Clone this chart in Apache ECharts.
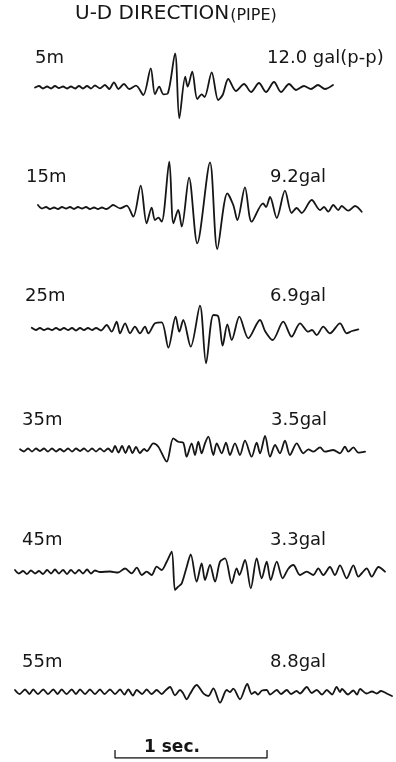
<!DOCTYPE html>
<html>
<head>
<meta charset="utf-8">
<script src="https://cdn.jsdelivr.net/npm/echarts@6/dist/echarts.min.js"></script>
<style>
  html, body { margin: 0; padding: 0; background: #fff; }
  #chart { width: 396px; height: 762px; }
</style>
</head>
<body>
<div id="chart"></div>
<script>
// Vertical (U-D) acceleration records at six depths along the pipe.
// Each trace: [time (s), trace deflection (record units, up = +)].

const DEPTHS = ['5m', '15m', '25m', '35m', '45m', '55m'];
const PP_GAL = [12.0, 9.2, 6.9, 3.5, 3.3, 8.8];

const trace5m = [
  [0.132, 0], [0.158, 1.5], [0.184, -1], [0.211, 1], [0.237, -1], [0.263, 1.5],
  [0.289, -0.5], [0.316, 1], [0.342, -1], [0.368, 1], [0.395, -1], [0.421, 1.5],
  [0.447, -1], [0.474, 1.5], [0.500, -1], [0.526, 2], [0.559, -0.8], [0.592, 2.5],
  [0.620, -1.5], [0.651, 5.2], [0.680, -1.5], [0.717, 3.5], [0.752, -1.5], [0.796, 1.8],
  [0.844, -7.5], [0.893, 19.2], [0.921, -6.8], [0.949, 0.8], [0.976, -6.8], [1.005, -6],
  [1.053, 34.2], [1.081, -30.8], [1.120, 10.8], [1.136, 0.8], [1.166, 15.8], [1.199, -11.5],
  [1.228, -6.8], [1.247, -9.5], [1.294, 15.2], [1.337, -12.5], [1.366, -7.5], [1.403, 8.5],
  [1.454, -3.5], [1.507, 3.5], [1.553, -4.5], [1.605, 4.5], [1.651, -4.5], [1.704, 5.5],
  [1.750, -4.5], [1.803, 3.5], [1.849, -2.5], [1.901, 1.5], [1.947, -1.5], [1.993, 2.5],
  [2.039, -1.5], [2.092, 2.5]
];

const trace15m = [
  [0.151, 3], [0.178, -0.5], [0.204, 1], [0.230, -1], [0.257, 0.5], [0.283, -1],
  [0.309, 1], [0.336, -0.5], [0.362, 1], [0.388, -1], [0.414, 1], [0.441, -0.5],
  [0.467, 1], [0.493, -1], [0.520, 0.5], [0.546, -1], [0.572, 0.5], [0.599, -1],
  [0.625, 1], [0.645, 3], [0.691, -0.3], [0.735, 2.3], [0.778, -8.7], [0.827, 22.3],
  [0.866, -15.3], [0.899, 0.3], [0.921, -12], [0.943, -9.7], [0.965, -13.7], [1.015, 46.3],
  [1.042, -15.3], [1.074, -2], [1.097, -18.7], [1.145, 30.3], [1.199, -35.3], [1.283, 45.7],
  [1.331, -41], [1.397, 14.7], [1.436, 3], [1.463, -12], [1.513, 20.7], [1.557, -13.7],
  [1.632, 4.7], [1.651, 1], [1.678, 11], [1.722, -10], [1.776, 17.3], [1.820, -5],
  [1.853, 0], [1.886, -5], [1.952, 8], [2.007, -2], [2.033, 1], [2.061, -3.7],
  [2.094, 3], [2.127, -2], [2.149, 2], [2.193, -2.7], [2.237, 2], [2.281, -3.7]
];

const trace25m = [
  [0.110, 1.3], [0.138, -1], [0.164, 1], [0.191, -1], [0.217, 0.5], [0.243, -1],
  [0.270, 1], [0.296, -1], [0.322, 1], [0.349, -1], [0.375, 1], [0.401, -1.5],
  [0.428, 1], [0.454, -1], [0.480, 1], [0.507, -1], [0.533, 1], [0.566, -1.5],
  [0.603, 4], [0.636, -2.7], [0.669, 7.3], [0.691, -4.3], [0.724, 5.7], [0.757, -4.3],
  [0.789, 2.3], [0.822, -4.3], [0.855, 2.3], [0.877, -4.3], [0.921, 5.7], [0.965, 6.7],
  [1.009, -18.7], [1.057, 12.3], [1.081, -2.7], [1.107, 9], [1.156, -17.7], [1.217, 23.3],
  [1.257, -34.3], [1.305, 14], [1.338, 12.3], [1.366, -16.7], [1.397, 4.7], [1.426, -11],
  [1.476, 12.3], [1.535, -9.3], [1.612, 9], [1.645, -2], [1.695, -11], [1.765, 7.3],
  [1.820, -7.7], [1.875, 5.7], [1.930, -2.7], [1.954, -1], [1.985, -6], [2.028, 2.3],
  [2.072, -4.3], [2.138, 5.7], [2.182, -4.3], [2.217, -2], [2.259, -0.3]
];

const trace35m = [
  [0.033, 0.7], [0.059, -1.5], [0.086, 1.5], [0.112, -1.5], [0.138, 1.5], [0.164, -1],
  [0.191, 1.5], [0.217, -1.5], [0.243, 1.5], [0.270, -1.5], [0.296, 1], [0.322, -1.5],
  [0.349, 1.5], [0.375, -1.5], [0.401, 1.5], [0.428, -1], [0.454, 1.5], [0.480, -1.5],
  [0.507, 1.5], [0.533, -1.5], [0.559, 1.5], [0.586, -1.5], [0.612, 1.5], [0.638, -2],
  [0.658, 4], [0.681, -2.5], [0.704, 4], [0.727, -3], [0.750, 4], [0.773, -3],
  [0.796, 3], [0.822, -3], [0.849, 1], [0.868, -1], [0.910, 6.7], [0.943, 3.3],
  [0.998, -11.7], [1.041, 11.7], [1.074, 8.3], [1.107, 7.3], [1.129, -6.7], [1.162, 6.7],
  [1.184, -5], [1.206, 8.3], [1.228, -3.3], [1.250, 6.7], [1.272, 13.3], [1.305, -5],
  [1.327, 6.7], [1.360, -3.3], [1.388, 7.3], [1.414, -5], [1.447, 6.7], [1.480, -5],
  [1.513, 9.3], [1.557, -6.7], [1.590, 7.3], [1.612, -3.3], [1.645, 14], [1.678, -6.7],
  [1.711, 5], [1.743, -3.3], [1.776, 9.3], [1.809, -5], [1.853, 6.7], [1.897, -3.3],
  [1.930, 0.7], [1.963, -1.7], [2.007, 2.7], [2.039, -1.7], [2.094, 0], [2.138, -3.3],
  [2.171, 3.3], [2.193, -1.7], [2.226, 2.7], [2.259, -2.7], [2.303, -1.7]
];

const trace45m = [
  [0.000, 2], [0.026, -1.5], [0.053, 1], [0.079, -2], [0.105, 1.5], [0.132, -1.5],
  [0.158, 1], [0.184, -2], [0.211, 2], [0.237, -1.5], [0.263, 2.5], [0.289, -1.5],
  [0.316, 2], [0.342, -2], [0.368, 2], [0.395, -1.5], [0.421, 2], [0.447, -1.5],
  [0.474, 2.5], [0.500, -1.5], [0.526, 1.5], [0.559, 0], [0.625, 0.5], [0.678, -0.5],
  [0.724, 3.5], [0.768, -1.3], [0.801, 4.3], [0.834, -3], [0.866, 0.3], [0.899, -3],
  [0.932, 5.3], [0.965, 2], [0.998, 10.3], [1.031, 20.3], [1.053, -18], [1.074, -14.7],
  [1.097, -11.3], [1.130, 5.3], [1.156, 17.7], [1.195, -9.7], [1.228, 8.7], [1.250, -8],
  [1.283, 7], [1.316, -9.7], [1.349, 10.3], [1.382, 13.7], [1.426, -11.3], [1.458, 3.7],
  [1.476, -3], [1.513, 12], [1.551, -16.3], [1.590, 13.7], [1.623, -6.3], [1.656, 10.3],
  [1.682, -8], [1.722, 10.3], [1.761, -6.3], [1.798, 3.3], [1.831, 7], [1.875, -3],
  [1.919, 0.3], [1.963, -3], [1.995, 3.7], [2.028, -3], [2.072, 5], [2.105, -3],
  [2.138, 6.7], [2.182, -6.3], [2.226, 6.7], [2.259, -4.7], [2.283, -1], [2.314, 3.7],
  [2.347, -4.7], [2.391, 5], [2.434, 0.3]
];

const trace55m = [
  [0.000, 2], [0.030, -2], [0.066, 2.5], [0.095, -2], [0.120, 2.5], [0.151, -2],
  [0.186, 2.5], [0.217, -2], [0.252, 2.5], [0.280, -2], [0.307, 2.5], [0.339, -2],
  [0.373, 2.5], [0.401, -2], [0.428, 2.5], [0.461, -2], [0.493, 2.5], [0.526, -2],
  [0.559, 2.5], [0.589, -2], [0.625, 2.5], [0.658, -2], [0.691, 2.5], [0.720, -2.5],
  [0.745, 2.5], [0.776, -3.5], [0.801, 2], [0.836, -2], [0.866, 2.5], [0.898, -2],
  [0.932, 2], [0.965, -2], [0.993, 2], [1.020, 5], [1.053, -3.3], [1.086, 2],
  [1.105, -1], [1.130, -7.3], [1.151, -2], [1.195, 7], [1.239, -1.3], [1.272, -4],
  [1.305, 3.7], [1.349, -10.7], [1.393, 2], [1.414, 0], [1.436, 3.3], [1.480, -7.3],
  [1.528, 8], [1.557, -2], [1.579, 0], [1.599, -2.5], [1.625, 1.5], [1.656, 2],
  [1.678, -2.5], [1.722, 2], [1.750, -2], [1.788, 2], [1.816, -2], [1.853, 1],
  [1.875, -1.5], [1.919, 5], [1.952, -1], [1.985, 2], [2.020, -2.5], [2.051, 2],
  [2.086, -2.5], [2.116, 5], [2.138, 0], [2.151, 3], [2.191, -2.5], [2.226, 1.5],
  [2.250, -2.5], [2.270, 3], [2.314, -1.5], [2.349, 0.5], [2.380, -1.5], [2.408, 1],
  [2.445, -1.5], [2.480, -4]
];

const TRACES = [trace5m, trace15m, trace25m, trace35m, trace45m, trace55m];

// Time scale bar: start (s) and length (s)
const SCALE_START = 0.658;
const SCALE_LENGTH = 1;
const SCALE_LABEL = '1 sec.';

// ---- layout ----
const PLOT_LEFT = 15;
const PLOT_WIDTH = 380;        // 2.5 s across → 152 px per second
const T_MAX = 2.5;
const BASELINES = [87.5, 208, 329, 450, 572, 692];
const HALF = 50;               // record units above/below each baseline
const LABEL_Y = [58.5, 177.5, 296.5, 420, 540, 662];
const DEPTH_X = [35, 26, 25, 22, 22, 22];
const GAL_X = [267, 270, 270, 271, 270, 270];
const INK = '#161616';
const FONT = '"DejaVu Sans", "Liberation Sans", sans-serif';

const grids = [], xAxes = [], yAxes = [], series = [];

TRACES.forEach((tr, i) => {
  grids.push({ left: PLOT_LEFT, width: PLOT_WIDTH, top: BASELINES[i] - HALF, height: HALF * 2 });
  xAxes.push({ gridIndex: i, type: 'value', min: 0, max: T_MAX, show: false });
  yAxes.push({ gridIndex: i, type: 'value', min: -HALF, max: HALF, show: false });
  series.push({
    name: DEPTHS[i],
    type: 'line',
    xAxisIndex: i,
    yAxisIndex: i,
    data: tr,
    showSymbol: false,
    smooth: 0.3,
    lineStyle: { color: INK, width: 1.8, join: 'round', cap: 'round' },
    silent: true
  });
});

// scale bar grid
const sbi = TRACES.length;
grids.push({ left: PLOT_LEFT, width: PLOT_WIDTH, top: 748, height: 10 });
xAxes.push({ gridIndex: sbi, type: 'value', min: 0, max: T_MAX, show: false });
yAxes.push({ gridIndex: sbi, type: 'value', min: 0, max: 10, show: false });
series.push({
  name: 'scale',
  type: 'line',
  xAxisIndex: sbi,
  yAxisIndex: sbi,
  data: [
    [SCALE_START, 8], [SCALE_START, 0],
    [SCALE_START + SCALE_LENGTH, 0], [SCALE_START + SCALE_LENGTH, 8]
  ],
  showSymbol: false,
  lineStyle: { color: INK, width: 1.3 },
  silent: true
});

const graphics = [];
graphics.push({
  type: 'text',
  x: 75, y: 14,
  style: {
    text: '{a|U-D DIRECTION}{b|(PIPE)}',
    rich: {
      a: { font: '20px ' + FONT, fill: INK },
      b: { font: '16px ' + FONT, fill: INK, padding: [3, 0, 0, 1] }
    },
    verticalAlign: 'middle'
  }
});
DEPTHS.forEach((d, i) => {
  graphics.push({
    type: 'text', x: DEPTH_X[i], y: LABEL_Y[i],
    style: { text: d, font: '18px ' + FONT, fill: INK, verticalAlign: 'middle' }
  });
  const gal = PP_GAL[i].toFixed(1) + (i === 0 ? ' gal(p-p)' : 'gal');
  graphics.push({
    type: 'text', x: GAL_X[i], y: LABEL_Y[i],
    style: { text: gal, font: '18px ' + FONT, fill: INK, verticalAlign: 'middle' }
  });
});
graphics.push({
  type: 'text', x: 144, y: 748,
  style: { text: SCALE_LABEL, font: 'bold 17px ' + FONT, fill: INK, verticalAlign: 'middle' }
});

const chart = echarts.init(document.getElementById('chart'), null, { renderer: 'canvas' });
chart.setOption({
  animation: false,
  backgroundColor: '#ffffff',
  grid: grids,
  xAxis: xAxes,
  yAxis: yAxes,
  series: series,
  graphic: graphics
});
</script>
</body>
</html>
